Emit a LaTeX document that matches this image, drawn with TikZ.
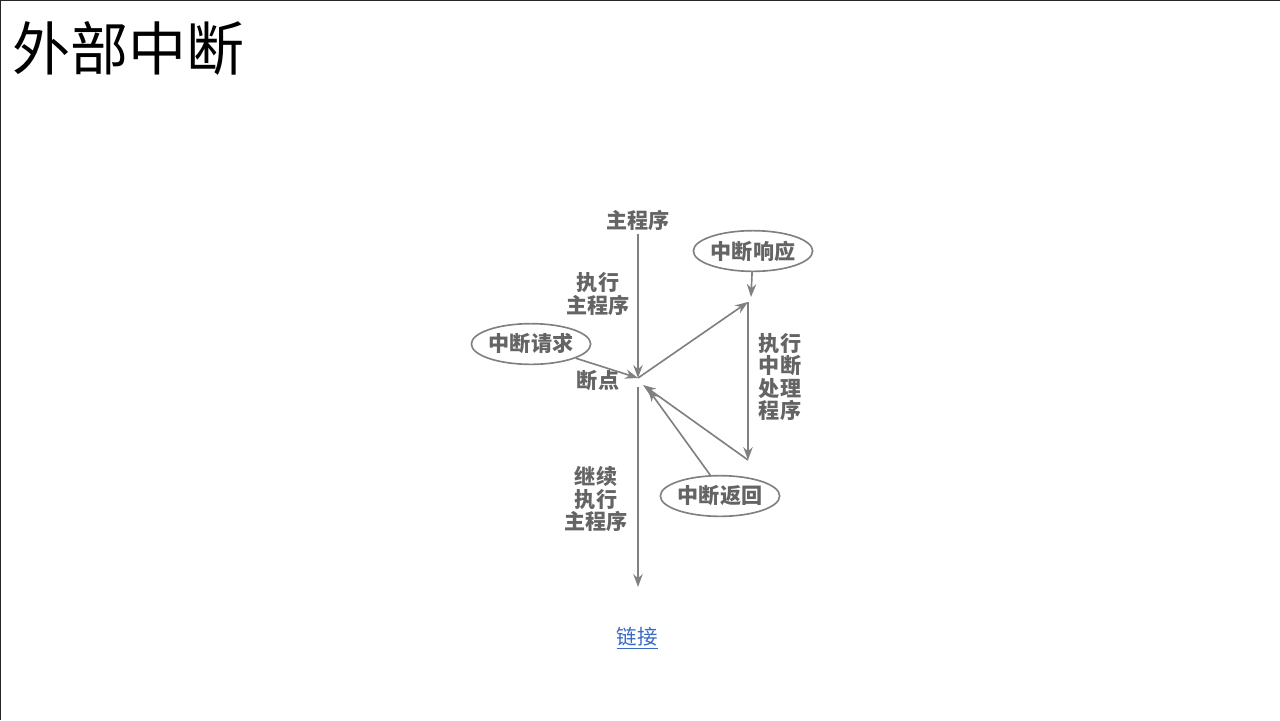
\documentclass[tikz,border=0pt]{standalone}
\usepackage{fontspec}
\setmainfont{Noto Sans CJK SC}
\usepackage{tikz}
\usetikzlibrary{shapes,arrows.meta,positioning,calc}

\definecolor{linegray}{RGB}{128,128,128}
\definecolor{textgray}{RGB}{100,100,100}
\definecolor{linkblue}{RGB}{55,105,200}

\begin{document}
\begin{tikzpicture}[x=0.03cm, y=-0.03cm,
                   every node/.style={text=textgray, font=\fontsize{18pt}{22pt}\selectfont\bfseries},
                   flow/.style={draw=linegray, line width=1.4pt, -{Stealth[length=11pt,width=8pt]}},
                   oval/.style={ellipse, draw=linegray, line width=1.4pt, inner sep=0pt}]
          % page and frame
          \useasboundingbox (0,0) rectangle (1280,720);
          \draw[black!85, line width=1.2pt] (0,720) -- (0,0.5) -- (1280,0.5);
          \node[text=black, font=\fontsize{49.5pt}{52pt}\selectfont, anchor=west] (title) at (8,48) {外部中断};

          % main program
          \node (mainprog) at (638,220) {主程序};
          \coordinate (bp) at (638,378);
          \coordinate (bpret) at (643,385);
          \coordinate (cont) at (638,387);
          \coordinate (mainend) at (638,587);
          \coordinate (hstart) at (748,302);
          \coordinate (hend) at (748,460);

          \node[align=center] (execmain) at (598,294) {执行\\[-3pt]主程序};
          \node (bplabel) at (598,381) {断点};
          \node[align=center] (contmain) at (596,499) {继续\\[-3pt]执行\\[-3pt]主程序};
          \node[align=center] (exechandler) at (780,377) {执行\\[-3pt]中断\\[-3pt]处理\\[-3pt]程序};

          % ovals
          \node[oval, minimum width=3.55cm, minimum height=1.22cm] (req) at (531,344) {中断请求};
          \node[oval, minimum width=3.55cm, minimum height=1.22cm] (resp) at (753,251) {中断响应};
          \node[oval, minimum width=3.55cm, minimum height=1.22cm] (ret) at (720,496) {中断返回};

          % connectors
          \draw[flow] (mainprog.south) -- (bp);
          \draw[flow] (cont) -- (mainend);
          \draw[flow] (req) -- (bp);
          \draw[flow] (bp) -- (hstart);
          \draw[flow] (resp) -- ($(hstart)+(3,-5)$);
          \draw[flow] (hstart) -- (hend);
          \draw[flow] (hend) -- (bpret);
          \draw[flow] (ret.115) -- ($(bpret)+(5,4)$);

          \node[text=linkblue, font=\fontsize{17.5pt}{22pt}\selectfont] (link) at (637,638) {\underline{链接}};
        \end{tikzpicture}
\end{document}
